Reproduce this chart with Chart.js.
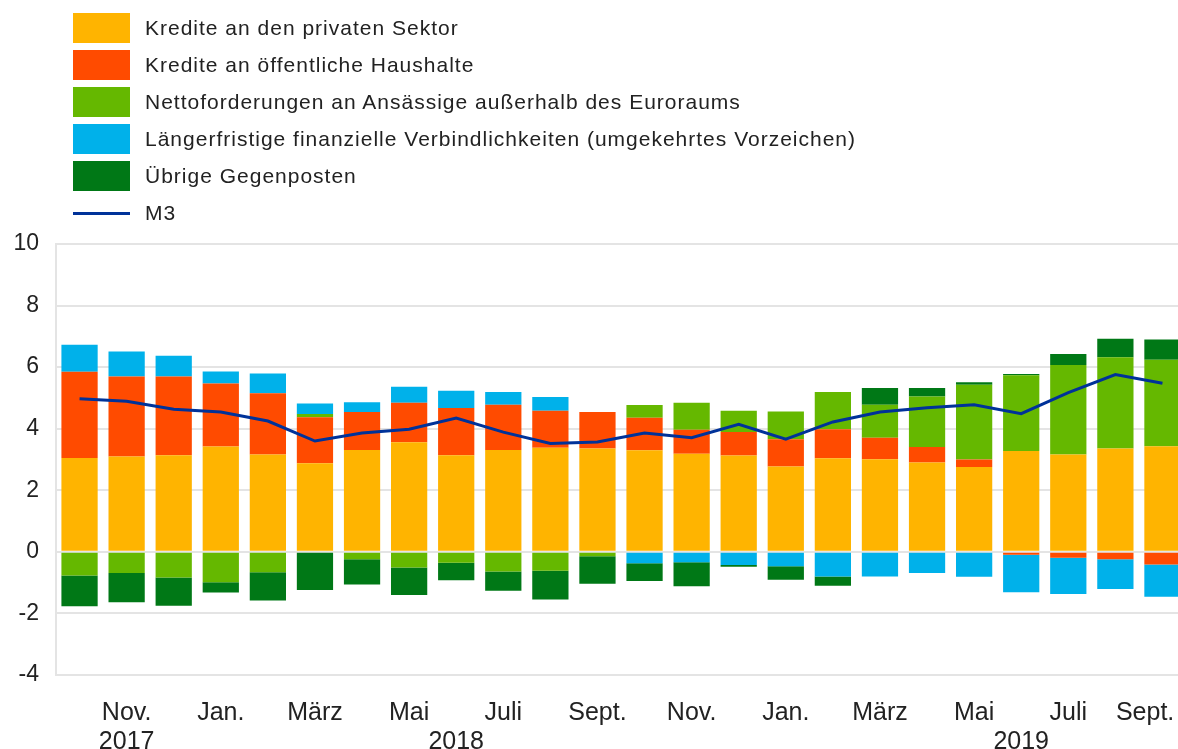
<!DOCTYPE html>
<html>
<head>
<meta charset="utf-8">
<script src="https://cdn.jsdelivr.net/npm/chart.js@4"></script>
<style>
    body { margin: 0; background: #fff; overflow: hidden; font-family: "Liberation Sans", Arial, sans-serif; }
    #wrap { position: absolute; left: 0; top: 0; width: 1186px; height: 749px; }
    #legend { position: absolute; left: 73px; top: 13px; }
    .row { display: flex; align-items: center; height: 30px; margin-bottom: 7px; }
    .box { width: 57px; height: 30px; margin-right: 15px; }
    .line { width: 57px; height: 3px; margin-right: 15px; }
    .row span { font-size: 21px; letter-spacing: 1px; color: #222; white-space: nowrap; }
</style>
</head>
<body>
<div id="wrap"><canvas id="chart1"></canvas></div>
<div id="legend"></div>
<script>
// months Oct 2017 - Sept 2019, values in percentage points

const categories = [
    "2017-10", "2017-11", "2017-12", "2018-01", "2018-02", "2018-03",
    "2018-04", "2018-05", "2018-06", "2018-07", "2018-08", "2018-09",
    "2018-10", "2018-11", "2018-12", "2019-01", "2019-02", "2019-03",
    "2019-04", "2019-05", "2019-06", "2019-07", "2019-08", "2019-09"
];

// last label padded with spaces so it stays inside the picture
const tickLabels = [
    "", ["Nov.", "2017"], "", "Jan.", "", "März", "", "Mai", ["", "2018"], "Juli", "", "Sept.",
    "", "Nov.", "", "Jan.", "", "März", "", "Mai", ["", "2019"], "Juli", "", "Sept.     "
];

const yTicks = [-4, -2, 0, 2, 4, 6, 8, 10];

const privatSektor = [3.05, 3.10, 3.14, 3.42, 3.16, 2.88, 3.31, 3.56, 3.14, 3.31, 3.38, 3.36,
    3.30, 3.19, 3.13, 2.77, 3.04, 3.01, 2.90, 2.76, 3.28, 3.16, 3.36, 3.43];
const oeffHaushalte = [2.80, 2.60, 2.56, 2.05, 1.99, 1.49, 1.23, 1.28, 1.53, 1.47, 1.20, 1.18,
    1.06, 0.78, 0.76, 0.89, 0.94, 0.70, 0.51, 0.24, -0.09, -0.19, -0.24, -0.41];
const nettoforderungen = [-0.77, -0.69, -0.83, -0.99, -0.66, 0.11, -0.24, -0.51, -0.35, -0.64, -0.61, -0.14,
    0.41, 0.87, 0.69, 0.90, 1.21, 1.07, 1.64, 2.43, 2.46, 2.91, 2.96, 2.81];
const laengerfristig = [0.88, 0.81, 0.67, 0.39, 0.64, 0.34, 0.32, 0.52, 0.56, 0.41, 0.45, 0,
    -0.37, -0.34, -0.43, -0.47, -0.80, -0.80, -0.69, -0.81, -1.22, -1.18, -0.97, -1.05];
const uebrige = [-1.00, -0.95, -0.92, -0.33, -0.92, -1.24, -0.82, -0.89, -0.57, -0.62, -0.94, -0.90,
    -0.58, -0.78, -0.05, -0.44, -0.30, 0.54, 0.27, 0.08, 0.04, 0.36, 0.60, 0.66];
const m3 = [4.97, 4.89, 4.63, 4.54, 4.25, 3.60, 3.86, 3.98, 4.35, 3.89, 3.52, 3.57,
    3.86, 3.71, 4.14, 3.66, 4.22, 4.54, 4.68, 4.78, 4.49, 5.17, 5.76, 5.48];

const barSeries = [
    {label: "Kredite an den privaten Sektor", data: privatSektor, color: "#ffb400"},
    {label: "Kredite an öffentliche Haushalte", data: oeffHaushalte, color: "#ff4b00"},
    {label: "Nettoforderungen an Ansässige außerhalb des Euroraums", data: nettoforderungen, color: "#65b800"},
    {label: "Längerfristige finanzielle Verbindlichkeiten (umgekehrtes Vorzeichen)", data: laengerfristig, color: "#00b1ea"},
    {label: "Übrige Gegenposten", data: uebrige, color: "#007816"}
];
const lineSeries = {label: "M3", data: m3, color: "#003299"};

function buildLegend(el) {
    barSeries.forEach(s => {
        el.insertAdjacentHTML("beforeend",
            '<div class="row"><div class="box" style="background:' + s.color + '"></div><span>' + s.label + '</span></div>');
    });
    el.insertAdjacentHTML("beforeend",
        '<div class="row"><div class="line" style="background:' + lineSeries.color + '"></div><span>' + lineSeries.label + '</span></div>');
}

function createChart(canvas) {
    let datasets = [{
        type: "line",
        label: lineSeries.label,
        data: lineSeries.data,
        borderColor: lineSeries.color,
        borderWidth: 3,
        pointRadius: 0,
        tension: 0,
        stack: "m3",
        order: 0
    }];

    barSeries.forEach(s => {
        datasets.push({
            type: "bar",
            label: s.label,
            data: s.data,
            backgroundColor: s.color,
            stack: "bars",
            order: 1,
            categoryPercentage: 1,
            barPercentage: 0.77
        });
    });

    return new Chart(canvas.id, {
        data: {labels: categories, datasets: datasets},
        options: {
            responsive: true,
            maintainAspectRatio: false,
            animation: false,
            layout: {padding: {top: 244, left: 0, right: 0, bottom: 0}},
            plugins: {legend: {display: false}, tooltip: {enabled: false}},
            scales: {
                x: {
                    stacked: true,
                    afterFit: scale => {
                        scale.height = 74;
                        scale.paddingLeft = 0;
                        scale.paddingRight = 0;
                    },
                    grid: {display: false},
                    border: {display: false},
                    ticks: {
                        autoSkip: false,
                        maxRotation: 0,
                        padding: 16,
                        color: "#222",
                        font: {family: "Liberation Sans", size: 25, lineHeight: 1.16},
                        callback: (v, i) => tickLabels[i]
                    }
                },
                y: {
                    stacked: true,
                    min: yTicks[0],
                    max: yTicks[yTicks.length - 1],
                    afterFit: scale => { scale.width = 56; },
                    afterBuildTicks: scale => { scale.ticks = yTicks.map(v => ({value: v})); },
                    grid: {color: "#e4e4e4", lineWidth: 2, drawTicks: false},
                    border: {display: true, color: "#e4e4e4", width: 2},
                    ticks: {
                        padding: 17,
                        color: "#222",
                        font: {family: "Liberation Sans", size: 23}
                    }
                }
            }
        }
    });
}

buildLegend(document.getElementById("legend"));
createChart(document.getElementById("chart1"));
</script>
</body>
</html>
